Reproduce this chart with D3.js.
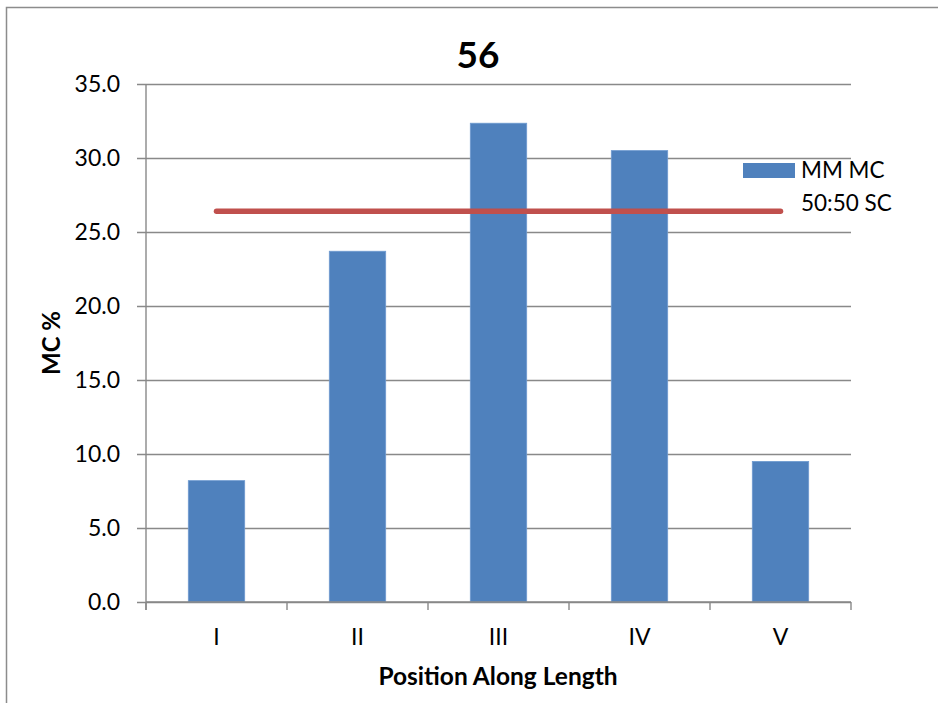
<!DOCTYPE html>
<html>
<head>
<meta charset="utf-8">
<script src="https://cdn.jsdelivr.net/npm/d3@7"></script>
<style>
  html, body { margin: 0; padding: 0; background: #fff; }
  svg { display: block; }
  text { font-family: Lato, "Open Sans", sans-serif; fill: #000; }
</style>
</head>
<body>
<svg id="chart" width="938" height="703"></svg>
<script>
// Moisture content by position along the length
const categories = ["I", "II", "III", "IV", "V"];
const mmMC = [8.2, 23.7, 32.35, 30.5, 9.5];
const sc5050 = [26.4, 26.4, 26.4, 26.4, 26.4];
const yTicks = [0, 5, 10, 15, 20, 25, 30, 35];
const chartTitle = "56";
const xTitle = "Position Along Length";
const yTitle = "MC %";
const seriesNames = ["MM MC", "50:50 SC"];

const barColor = "#4F81BD";
const lineColor = "#C0504D";
const gridColor = "#898989";

const svg = d3.select("#chart");
const plot = { left: 146, right: 851, top: 84, bottom: 602 };

// Outer chart frame
svg.append("rect")
  .attr("x", 6.5).attr("y", 7.5)
  .attr("width", 1000).attr("height", 1000)
  .attr("fill", "none").attr("stroke", "#8c8c8c").attr("stroke-width", 1.5);

const x = d3.scaleBand().domain(categories).range([plot.left, plot.right]).paddingInner(0.6).paddingOuter(0.3);
const xc = d3.scaleBand().domain(categories).range([plot.left, plot.right]);
const y = d3.scaleLinear().domain([0, 35]).range([plot.bottom, plot.top]);

// Horizontal gridlines with left tick marks
const yAxis = d3.axisLeft(y).tickValues(yTicks).tickFormat(d3.format(".1f"))
  .tickSize(-(plot.right - plot.left)).tickSizeOuter(0).tickPadding(26);
const gy = svg.append("g").attr("transform", `translate(${plot.left},0)`).call(yAxis);
gy.select(".domain").remove();
gy.selectAll(".tick line").attr("x1", -9).attr("stroke", gridColor).attr("stroke-width", 1.4);
gy.selectAll(".tick text").style("font-size", "23px").style("font-family", "Lato, sans-serif").attr("fill", "#000");

// Bars
svg.append("g").selectAll("rect").data(mmMC).join("rect")
  .attr("x", (d, i) => x(categories[i]))
  .attr("width", x.bandwidth())
  .attr("y", d => y(d))
  .attr("height", d => y(0) - y(d))
  .attr("fill", barColor)
  .attr("stroke", "#6f9bd0").attr("stroke-width", 0.8);

// Vertical axis line
svg.append("line")
  .attr("x1", plot.left).attr("x2", plot.left)
  .attr("y1", plot.top).attr("y2", plot.bottom + 8)
  .attr("stroke", gridColor).attr("stroke-width", 1.4);

// Category axis
const xAxis = d3.axisBottom(xc).tickSize(0).tickPadding(0);
const gx = svg.append("g").attr("transform", `translate(0,${plot.bottom})`).call(xAxis);
gx.select(".domain").remove();
gx.selectAll(".tick text").attr("dy", null).attr("y", 43)
  .style("font-size", "23px").style("font-family", "Lato, sans-serif").attr("fill", "#000");
svg.append("line")
  .attr("x1", plot.left).attr("x2", plot.right)
  .attr("y1", plot.bottom).attr("y2", plot.bottom)
  .attr("stroke", gridColor).attr("stroke-width", 1.4);
const boundaries = d3.range(categories.length + 1).map(i => plot.left + i * xc.step());
svg.append("g").selectAll("line").data(boundaries).join("line")
  .attr("x1", d => d).attr("x2", d => d)
  .attr("y1", plot.bottom).attr("y2", plot.bottom + 8)
  .attr("stroke", gridColor).attr("stroke-width", 1.4);

// Reference line series
const line = d3.line()
  .x((d, i) => xc(categories[i]) + xc.bandwidth() / 2)
  .y(d => y(d));
svg.append("path").datum(sc5050)
  .attr("d", line)
  .attr("fill", "none")
  .attr("stroke", lineColor).attr("stroke-width", 5.5)
  .attr("stroke-linecap", "round");

// Title
svg.append("text").attr("x", 478).attr("y", 68).attr("text-anchor", "middle")
  .style("font-size", "37px").style("font-weight", "bold").text(chartTitle);

// Axis titles
svg.append("text").attr("x", 498).attr("y", 685).attr("text-anchor", "middle")
  .style("font-size", "24.5px").style("font-weight", "bold").text(xTitle);
svg.append("text").attr("transform", "translate(60,343) rotate(-90)").attr("text-anchor", "middle")
  .style("font-size", "24px").style("font-weight", "bold").text(yTitle);

// Legend
const legend = svg.append("g");
legend.append("rect").attr("x", 743).attr("y", 163).attr("width", 52).attr("height", 15).attr("fill", barColor);
legend.append("text").attr("x", 801).attr("y", 178).style("font-size", "22.5px").text(seriesNames[0]);
legend.append("text").attr("x", 801).attr("y", 211).style("font-size", "22.5px").text(seriesNames[1]);
</script>
</body>
</html>
